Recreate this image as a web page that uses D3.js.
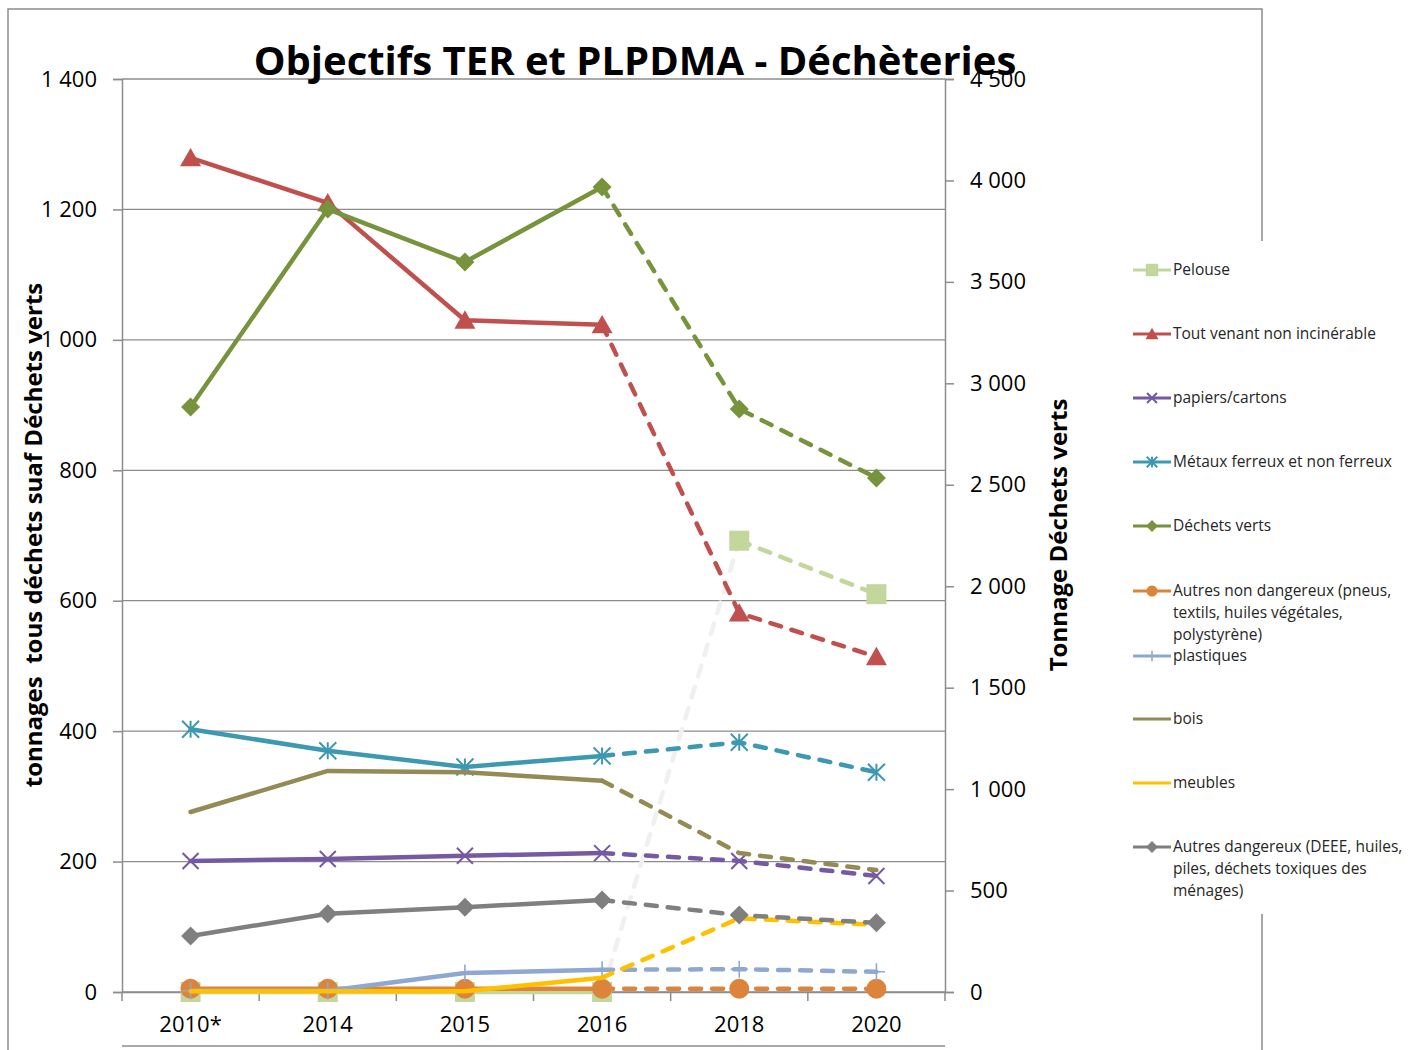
<!DOCTYPE html>
<html>
<head>
<meta charset="utf-8">
<script src="https://cdn.jsdelivr.net/npm/d3@7"></script>
<style>
  body { margin: 0; background: #fff; }
  svg { display: block; font-family: "Open Sans", sans-serif; }
</style>
</head>
<body>
<svg id="chart" width="1414" height="1050"></svg>
<script>
// categories and values
const categories = ["2010*", "2014", "2015", "2016", "2018", "2020"];

const pelouse        = [0, 0, 0, 0, 692, 610];
const toutVenant     = [1279, 1210, 1030, 1023, 581, 514];
const papiers        = [201, 204, 209, 213, 201, 178];
const metaux         = [403, 370, 345, 362, 383, 337];
const dechetsVerts   = [2883, 3859, 3598, 3968, 2874, 2534]; // right axis
const autresNonDang  = [5, 5, 5, 5, 5, 5];
const plastiques     = [2, 2, 29, 34, 35, 31];
const bois           = [276, 339, 337, 324, 213, 187];
const meubles        = [1, 1, 1, 22, 113, 103];
const autresDang     = [86, 120, 130, 141, 118, 106];

const leftTicks  = [0, 200, 400, 600, 800, 1000, 1200, 1400];
const rightTicks = [0, 500, 1000, 1500, 2000, 2500, 3000, 3500, 4000, 4500];

// series styles (drawing order = Excel order, secondary axis last)
const series = [
  { name: ["Pelouse"], values: pelouse, color: "#C3D69B", marker: "square", axis: "left", bridge: "#F0F0F0" },
  { name: ["Tout venant non incinérable"], values: toutVenant, color: "#C0504D", marker: "triangle", axis: "left" },
  { name: ["papiers/cartons"], values: papiers, color: "#7559A2", marker: "x", axis: "left" },
  { name: ["Métaux ferreux et non ferreux"], values: metaux, color: "#3D98B1", marker: "star", axis: "left" },
  { name: ["Autres non dangereux (pneus,", "textils, huiles végétales,", "polystyrène)"], values: autresNonDang, color: "#DD843C", marker: "circle", axis: "left" },
  { name: ["plastiques"], values: plastiques, color: "#8EA8D2", marker: "plus", axis: "left" },
  { name: ["bois"], values: bois, color: "#948A54", marker: null, axis: "left" },
  { name: ["meubles"], values: meubles, color: "#FFC000", marker: null, axis: "left" },
  { name: ["Autres dangereux (DEEE, huiles,", "piles, déchets toxiques des", "ménages)"], values: autresDang, color: "#7F7F7F", marker: "diamond", axis: "left" },
  { name: ["Déchets verts"], values: dechetsVerts, color: "#77933C", marker: "diamond", axis: "right" }
];
const legendOrder = [0, 1, 2, 3, 9, 4, 5, 6, 7, 8];

const svg = d3.select("#chart");
const mLeft = 122, mRight = 945, mTop = 79, mBottom = 992;

const x = d3.scaleBand().domain(categories).range([mLeft, mRight]);
const yL = d3.scaleLinear().domain([0, 1400]).range([mBottom, mTop]);
const yR = d3.scaleLinear().domain([0, 4500]).range([mBottom, mTop]);

const fr = d3.formatLocale({ decimal: ",", thousands: "\u00a0", grouping: [3], currency: ["", " €"] });
const fmt = fr.format(",d");

// outer chart border
svg.append("path")
  .attr("d", "M8,1050 V9 H1262 V1050")
  .attr("fill", "none").attr("stroke", "#8C8C8C").attr("stroke-width", 1.5);
svg.append("line")
  .attr("x1", mLeft).attr("x2", mRight).attr("y1", 1046).attr("y2", 1046)
  .attr("stroke", "#8C8C8C").attr("stroke-width", 1.5);

// gridlines
svg.append("g").selectAll("line").data(leftTicks).join("line")
  .attr("x1", mLeft).attr("x2", mRight)
  .attr("y1", d => yL(d)).attr("y2", d => yL(d))
  .attr("stroke", "#8C8C8C").attr("stroke-width", 1.3);

// left axis
const gl = svg.append("g").attr("transform", `translate(${mLeft},0)`)
  .call(d3.axisLeft(yL).tickValues(leftTicks).tickSize(9).tickPadding(16).tickFormat(fmt));
gl.selectAll("text").attr("font-size", 22).attr("fill", "#000").attr("font-family", "Open Sans");

// right axis
const gr = svg.append("g").attr("transform", `translate(${mRight},0)`)
  .call(d3.axisRight(yR).tickValues(rightTicks).tickSize(9).tickPadding(16).tickFormat(fmt));
gr.selectAll("text").attr("font-size", 22).attr("fill", "#000").attr("font-family", "Open Sans");

// bottom axis
const gb = svg.append("g").attr("transform", `translate(0,${mBottom})`)
  .call(d3.axisBottom(x).tickSize(0).tickPadding(24));
gb.selectAll("text").attr("font-size", 22).attr("fill", "#000").attr("font-family", "Open Sans");
gb.selectAll(".sep").data(d3.range(categories.length + 1)).join("line")
  .attr("class", "sep")
  .attr("x1", i => mLeft + i * x.step()).attr("x2", i => mLeft + i * x.step())
  .attr("y1", 0).attr("y2", 9).attr("stroke", "#8C8C8C").attr("stroke-width", 1.5);

[gl, gr, gb].forEach(g => {
  g.selectAll(".domain, .tick line").attr("stroke", "#8C8C8C").attr("stroke-width", 1.5);
});

// markers
function markerPath(type, s) {
  const h = s / 2;
  switch (type) {
    case "square": return `M${-h},${-h}H${h}V${h}H${-h}Z`;
    case "triangle": return `M0,${-h * 0.95}L${h},${h * 0.8}L${-h},${h * 0.8}Z`;
    case "diamond": return `M0,${-h}L${h},0L0,${h}L${-h},0Z`;
    case "x": return `M${-h},${-h}L${h},${h}M${-h},${h}L${h},${-h}`;
    case "plus": return `M0,${-h}V${h}M${-h},0H${h}`;
    case "star": return `M${-h},${-h}L${h},${h}M${-h},${h}L${h},${-h}M0,${-h}V${h}`;
  }
  return "";
}
const markerSize = { square: 20, triangle: 21, diamond: 19, x: 16, plus: 17, star: 17, circle: 20 };

function drawMarker(g, type, color, cx, cy, scale) {
  if (!type) return;
  const s = markerSize[type] * scale;
  if (type === "circle") {
    g.append("circle").attr("cx", cx).attr("cy", cy).attr("r", s / 2).attr("fill", color);
  } else if (type === "x" || type === "plus" || type === "star") {
    g.append("path").attr("d", markerPath(type, s)).attr("transform", `translate(${cx},${cy})`)
      .attr("fill", "none").attr("stroke", color).attr("stroke-width", type === "plus" ? 1.6 : 2);
  } else {
    g.append("path").attr("d", markerPath(type, s)).attr("transform", `translate(${cx},${cy})`)
      .attr("fill", color);
  }
}

const line = d3.line().x(d => d.x).y(d => d.y);
const plot = svg.append("g");

series.forEach(s => {
  const y = s.axis === "left" ? yL : yR;
  const pts = s.values.map((v, i) => ({ x: x(categories[i]) + x.bandwidth() / 2, y: y(v) }));
  const g = plot.append("g");
  // solid up to 2016
  g.append("path").attr("d", line(pts.slice(0, 4)))
    .attr("fill", "none").attr("stroke", s.color).attr("stroke-width", 4.5)
    .attr("stroke-linejoin", "round").attr("stroke-linecap", "round");
  // projections dashed
  if (s.bridge) {
    g.append("path").attr("d", line(pts.slice(3, 5)))
      .attr("fill", "none").attr("stroke", s.bridge).attr("stroke-width", 4.5)
      .attr("stroke-dasharray", "11,11").attr("stroke-linecap", "round");
    g.append("path").attr("d", line(pts.slice(4)))
      .attr("fill", "none").attr("stroke", s.color).attr("stroke-width", 4.5)
      .attr("stroke-dasharray", "11,11").attr("stroke-linecap", "round");
  } else {
    g.append("path").attr("d", line(pts.slice(3)))
      .attr("fill", "none").attr("stroke", s.color).attr("stroke-width", 4.5)
      .attr("stroke-dasharray", "11,11").attr("stroke-linecap", "round")
      .attr("stroke-linejoin", "round");
  }
  pts.forEach(p => drawMarker(g, s.marker, s.color, p.x, p.y, 1));
});

// title
svg.append("text")
  .attr("x", 635).attr("y", 75).attr("text-anchor", "middle")
  .attr("font-family", "Open Sans").attr("font-weight", "bold").attr("font-size", 40)
  .attr("fill", "#000")
  .text("Objectifs TER et PLPDMA - Déchèteries");

// axis titles
svg.append("text")
  .attr("transform", "translate(42,535) rotate(-90)").attr("text-anchor", "middle")
  .attr("font-family", "Open Sans").attr("font-weight", "bold").attr("font-size", 24)
  .attr("fill", "#000").style("white-space", "pre")
  .text("tonnages  tous déchets suaf Déchets verts");
svg.append("text")
  .attr("transform", "translate(1067,535) rotate(-90)").attr("text-anchor", "middle")
  .attr("font-family", "Open Sans").attr("font-weight", "bold").attr("font-size", 24)
  .attr("fill", "#000")
  .text("Tonnage Déchets verts");

// legend (covers the outer border)
const lg = svg.append("g");
lg.append("rect").attr("x", 1122).attr("y", 241).attr("width", 292).attr("height", 673).attr("fill", "#fff");
const legendY = [270, 334, 398, 462, 526, 591, 656, 719, 783, 847];
legendOrder.forEach((si, k) => {
  const s = series[si];
  const yy = legendY[k];
  lg.append("line").attr("x1", 1133).attr("x2", 1171).attr("y1", yy).attr("y2", yy)
    .attr("stroke", s.color).attr("stroke-width", 3);
  drawMarker(lg, s.marker, s.color, 1152, yy, s.marker === "circle" ? 0.55 : 0.62);
  const t = lg.append("text").attr("x", 1173).attr("y", yy + 5)
    .attr("font-family", "Open Sans").attr("font-size", 15.5).attr("fill", "#262626");
  s.name.forEach((n, j) => {
    t.append("tspan").attr("x", 1173).attr("dy", j === 0 ? 0 : 22).text(n);
  });
});
</script>
</body>
</html>
